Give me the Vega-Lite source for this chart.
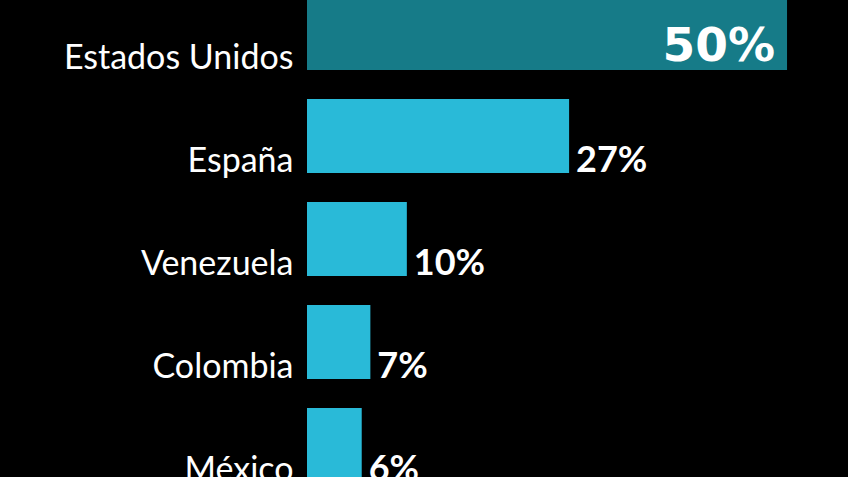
{
  "$schema": "https://vega.github.io/schema/vega-lite/v6.json",
  "autosize": {"type": "none"},
  "width": 541,
  "height": 515,
  "padding": {"left": 307, "top": -18.5, "right": 0, "bottom": 0},
  "background": "#000000",
  "config": {"view": {"stroke": null}},
  "data": {
    "values": [
      {"pais": "Estados Unidos", "valor": 0.5, "grupo": "top"},
      {"pais": "España", "valor": 0.273, "grupo": "otro"},
      {"pais": "Venezuela", "valor": 0.104, "grupo": "otro"},
      {"pais": "Colombia", "valor": 0.066, "grupo": "otro"},
      {"pais": "México", "valor": 0.057, "grupo": "otro"}
    ]
  },
  "encoding": {
    "y": {
      "field": "pais",
      "type": "nominal",
      "sort": null,
      "scale": {"paddingInner": 0.2816, "paddingOuter": 0.1408},
      "axis": {
        "title": null,
        "domain": false,
        "ticks": false,
        "grid": false,
        "labelFont": "Lato",
        "labelFontSize": 34,
        "labelColor": "#ffffff",
        "labelPadding": 14,
        "labelBaseline": "alphabetic",
        "labelOffset": 36,
        "labelLimit": 400
      }
    },
    "x": {
      "field": "valor",
      "type": "quantitative",
      "scale": {"domain": [0, 0.5635], "nice": false, "zero": true},
      "axis": null
    }
  },
  "layer": [
    {
      "mark": {"type": "bar"},
      "encoding": {
        "color": {
          "field": "grupo",
          "type": "nominal",
          "scale": {"domain": ["top", "otro"], "range": ["#167B88", "#29BAD8"]},
          "legend": null
        }
      }
    },
    {
      "transform": [{"filter": "datum.grupo == 'otro'"}],
      "mark": {"type": "text", "align": "left", "baseline": "alphabetic", "dx": 7, "dy": 36, "font": "Lato", "fontWeight": "bold", "fontSize": 36, "color": "#ffffff"},
      "encoding": {"text": {"field": "valor", "type": "quantitative", "format": ".0%"}}
    },
    {
      "transform": [{"filter": "datum.grupo == 'top'"}],
      "mark": {"type": "text", "align": "right", "baseline": "alphabetic", "dx": -12, "dy": 28, "font": "DejaVu Sans", "fontWeight": "bold", "fontSize": 47, "color": "#ffffff"},
      "encoding": {"text": {"field": "valor", "type": "quantitative", "format": ".0%"}}
    }
  ]
}
